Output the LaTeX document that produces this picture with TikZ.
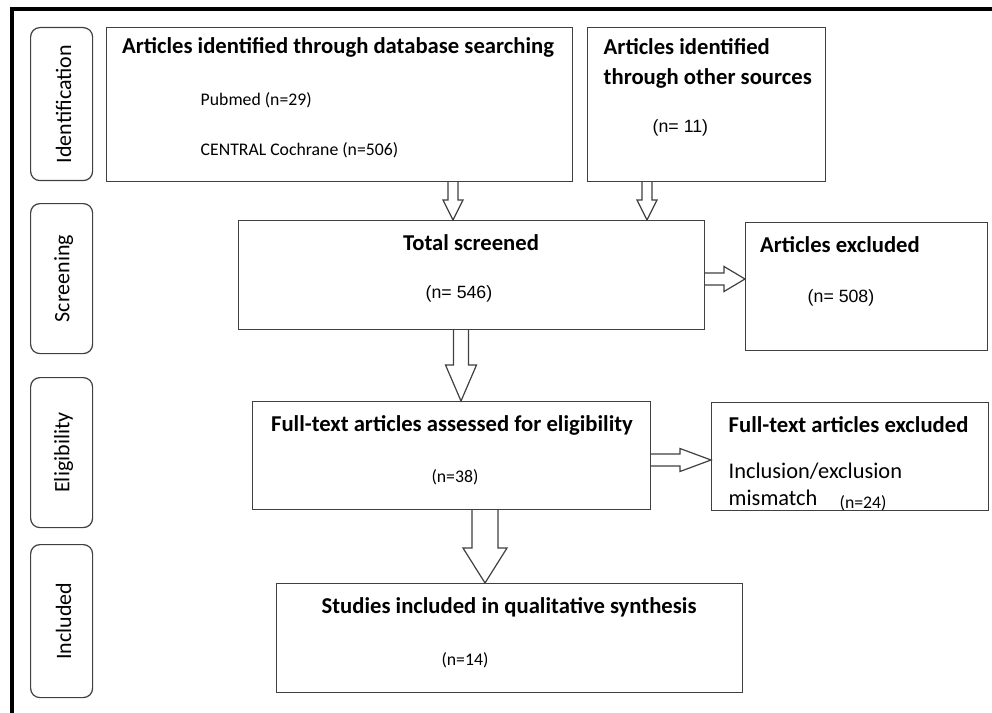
\documentclass[tikz,border=0pt]{standalone}
\usepackage{fontspec}
\setmainfont{Carlito}
\newfontfamily\arialfont{Liberation Sans}
\usetikzlibrary{calc}

\tikzset{
    box/.style={draw=black!75, line width=0.9pt, anchor=north west, inner sep=0pt},
    stagebox/.style={box, rounded corners=7pt},
    boxsize/.style 2 args={minimum width=#1*0.75pt, minimum height=#2*0.75pt},
    hollow/.style={draw=black!75, line width=0.9pt, fill=white, line join=miter},
    title/.style={font=\fontsize{17}{22.5}\selectfont\bfseries},
    plain/.style={font=\fontsize{13.3}{16}\selectfont},
    count/.style={font=\arialfont\fontsize{13.3}{16}\selectfont},
    stagetext/.style={font=\fontsize{16.5}{18}\selectfont, rotate=90},
}

% hollow block arrows: start, end, shaft half width, head half width, head length
\newcommand{\downblock}[5]{
    \draw[hollow] ($(#1)+(-#3,0)$) -- ($(#2)+(-#3,-#5)$) -- ($(#2)+(-#4,-#5)$) -- (#2)
        -- ($(#2)+(#4,-#5)$) -- ($(#2)+(#3,-#5)$) -- ($(#1)+(#3,0)$);
}
\newcommand{\rightblock}[5]{
    \draw[hollow] ($(#1)+(0,-#3)$) -- ($(#2)+(-#5,-#3)$) -- ($(#2)+(-#5,-#4)$) -- (#2)
        -- ($(#2)+(-#5,#4)$) -- ($(#2)+(-#5,#3)$) -- ($(#1)+(0,#3)$);
}

\begin{document}
\begin{tikzpicture}[x=0.75pt, y=-0.75pt]
    \useasboundingbox (0,0) rectangle (992,713);
    \fill[white] (0,0) rectangle (992,713);
    \draw[line width=2.4pt] (992,9) -- (12,9) -- (12,713);

    \node[stagebox, boxsize={62}{153}] (idlab) at (30,27) {};
    \node[stagebox, boxsize={62}{150}] (scrlab) at (30,203) {};
    \node[stagebox, boxsize={62}{150}] (elilab) at (30,377) {};
    \node[stagebox, boxsize={62}{153}] (inclab) at (30,544) {};
    \node[stagetext] (idtxt) at ([xshift=1.5pt]idlab.center) {Identification};
    \node[stagetext] (scrtxt) at ([xshift=1.5pt]scrlab.center) {Screening};
    \node[stagetext] (elitxt) at ([xshift=1.5pt]elilab.center) {Eligibility};
    \node[stagetext] (inctxt) at ([xshift=1.5pt]inclab.center) {Included};

    \node[box, boxsize={466}{154}] (db) at (106,27) {};
    \node[box, boxsize={238}{154}] (oth) at (587,27) {};
    \node[box, boxsize={466}{109}] (tot) at (238,220) {};
    \node[box, boxsize={242}{128}] (exc) at (745,222) {};
    \node[box, boxsize={398}{108}] (fta) at (252,401) {};
    \node[box, boxsize={277}{108}] (fte) at (711,402) {};
    \node[box, boxsize={466}{109}] (stu) at (276,583) {};

    \node[title] (dbtitle) at (338,47) {Articles identified through database searching};
    \node[plain, anchor=west] (pubmed) at (196,100) {Pubmed (n=29)};
    \node[plain, anchor=west] (central) at (196,150) {CENTRAL Cochrane (n=506)};
    \node[title, anchor=west, align=left] (othtitle) at (599,63) {Articles identified\\through other sources};
    \node[count, anchor=west] (othn) at (648,128) {(n= 11)};
    \node[title] (tottitle) at (471,243) {Total screened};
    \node[count] (totn) at (459,294) {(n= 546)};
    \node[title] (exctitle) at (840,245) {Articles excluded};
    \node[count] (excn) at (841,298) {(n= 508)};
    \node[title] (ftatitle) at (452,425) {Full-text articles assessed for eligibility};
    \node[plain] (ftan) at (455,477) {(n=38)};
    \node[title, anchor=west] (ftetitle) at (724,425) {Full-text articles excluded};
    \node[font=\fontsize{16.8}{20}\selectfont, anchor=west] (ftereason) at (724,471) {Inclusion/exclusion};
    \node[font=\fontsize{16.8}{20}\selectfont, anchor=west] (ftemis) at (724,498) {mismatch};
    \node[plain, anchor=west] (ften) at (835,503) {(n=24)};
    \node[title] (stutitle) at (509,607) {Studies included in qualitative synthesis};
    \node[plain] (stun) at (465,660) {(n=14)};

    \coordinate (a1s) at (453,0 |- db.south);
    \coordinate (a1e) at (453,0 |- tot.north);
    \coordinate (a2s) at (647,0 |- oth.south);
    \coordinate (a2e) at (647,0 |- tot.north);
    \coordinate (a3s) at (461,0 |- tot.south);
    \coordinate (a3e) at (461,0 |- fta.north);
    \coordinate (a4s) at (485,0 |- fta.south);
    \coordinate (a4e) at (485,0 |- stu.north);
    \coordinate (a5s) at (tot.east |- 0,279);
    \coordinate (a5e) at (exc.west |- 0,279);
    \coordinate (a6s) at (fta.east |- 0,460);
    \coordinate (a6e) at (fte.west |- 0,460);

    \downblock{a1s}{a1e}{5}{10}{20}
    \downblock{a2s}{a2e}{5}{10}{20}
    \downblock{a3s}{a3e}{7.5}{15.5}{36}
    \downblock{a4s}{a4e}{13}{22}{35}
    \rightblock{a5s}{a5e}{6}{12.5}{21}
    \rightblock{a6s}{a6e}{6}{11.5}{31}
\end{tikzpicture}
\end{document}
